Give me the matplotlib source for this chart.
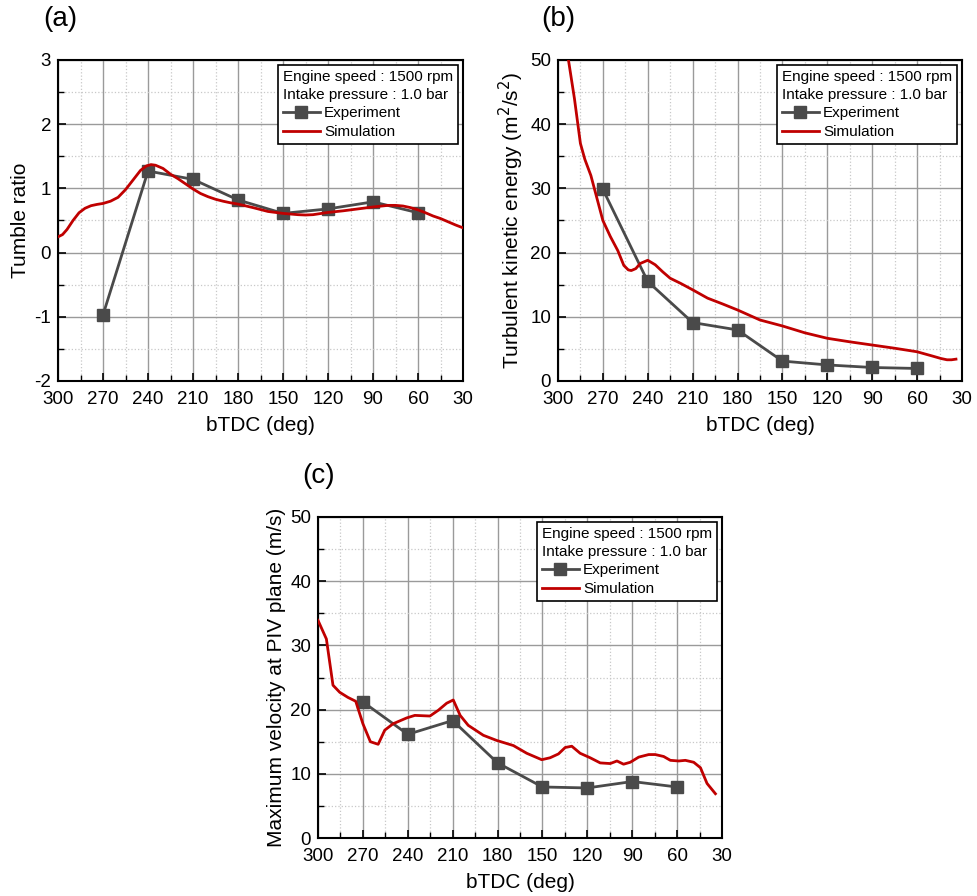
import numpy as np
import matplotlib
matplotlib.use("Agg")
import matplotlib.pyplot as plt
from matplotlib.ticker import MultipleLocator

plt.rcParams['font.family'] = ['Liberation Sans', 'DejaVu Sans']
plt.rcParams['axes.unicode_minus'] = False

# experiment points (same crank angles for all panels)
exp_x = [270, 240, 210, 180, 150, 120, 90, 60]
tumble_exp = [-0.97, 1.27, 1.14, 0.82, 0.61, 0.68, 0.79, 0.62]
tke_exp = [29.85, 15.5, 9.1, 7.95, 3.1, 2.5, 2.1, 1.95]
vel_exp = [21.2, 16.15, 18.3, 11.7, 7.95, 7.8, 8.8, 7.95]

# simulation curves
tumble_sim_x = [300, 297, 294, 290, 286, 282, 278, 274, 270, 265, 260, 255, 250, 245,
                241, 238, 235, 230, 225, 220, 215, 210, 205, 200, 195, 190, 185, 180,
                170, 160, 150, 140, 135, 130, 120, 110, 100, 90, 80, 75, 70, 65, 60,
                55, 50, 45, 40, 35, 30]
tumble_sim = [0.245, 0.28, 0.36, 0.5, 0.62, 0.69, 0.73, 0.75, 0.765, 0.8, 0.86, 0.98, 1.13, 1.28,
              1.35, 1.37, 1.36, 1.31, 1.22, 1.15, 1.07, 0.99, 0.92, 0.87, 0.83, 0.8, 0.775, 0.755,
              0.7, 0.64, 0.61, 0.59, 0.585, 0.59, 0.625, 0.65, 0.68, 0.71, 0.735, 0.735, 0.725, 0.7, 0.665,
              0.62, 0.57, 0.53, 0.48, 0.43, 0.385]

tke_sim_x = [297, 293, 289, 285, 282, 278, 274, 270, 265, 260, 256, 253, 251, 248, 245,
             240, 235, 230, 225, 218, 210, 200, 190, 180, 165, 150, 135, 120, 105, 90,
             75, 60, 50, 44, 40, 37, 34]
tke_sim = [56, 50, 44, 37, 34.5, 32.0, 28.5, 25.0, 22.5, 20.3, 18.0, 17.3, 17.2, 17.5, 18.3,
           18.8, 18.1, 17.0, 16.0, 15.2, 14.2, 12.9, 12.0, 11.06, 9.5, 8.57, 7.5, 6.65, 6.1, 5.6,
           5.1, 4.55, 3.9, 3.5, 3.3, 3.3, 3.4]

vel_sim_x = [300, 294.4, 290, 285.5, 280, 274.8, 270, 265, 259.8, 255.4, 249.8, 240.8, 235.3,
             225.2, 219.6, 214, 209.6, 205, 199.6, 189.5, 180.6, 169.4, 160.5, 150.5, 144.9,
             139.3, 134.8, 130.4, 124.8, 118.1, 111.4, 104.7, 100.2, 95.8, 91.3, 85.7, 79,
             74.6, 69, 64.5, 58.9, 54.5, 48.9, 44.4, 40, 34.4]
vel_sim = [33.9, 31.0, 23.8, 22.7, 21.9, 21.3, 17.8, 15.0, 14.6, 16.8, 17.8, 18.7, 19.1,
           19.0, 19.9, 21.0, 21.5, 19.1, 17.55, 16.0, 15.2, 14.4, 13.2, 12.2, 12.5,
           13.1, 14.1, 14.3, 13.2, 12.5, 11.7, 11.6, 12.0, 11.5, 11.8, 12.6, 13.0,
           13.0, 12.7, 12.1, 12.0, 12.1, 11.8, 10.95, 8.5, 6.9]

gray = '#4a4a4a'
red = '#c00000'


def style_axes(ax, ylim, ymajor, yminor):
    ax.set_xlim(300, 30)
    ax.set_ylim(*ylim)
    ax.xaxis.set_major_locator(MultipleLocator(30))
    ax.xaxis.set_minor_locator(MultipleLocator(15))
    ax.yaxis.set_major_locator(MultipleLocator(ymajor))
    ax.yaxis.set_minor_locator(MultipleLocator(yminor))
    ax.grid(which='major', color='#9a9a9a', linewidth=1.0)
    ax.grid(which='minor', color='#c8c8c8', linestyle=':', linewidth=0.9)
    ax.set_axisbelow(True)
    ax.tick_params(which='both', direction='in', labelsize=13.5, top=False, right=False)
    ax.tick_params(which='major', length=6, width=1.2)
    ax.tick_params(axis='x', which='major', pad=7)
    ax.tick_params(axis='y', which='major', pad=5)
    ax.tick_params(which='minor', length=4, width=1.0)
    for s in ax.spines.values():
        s.set_linewidth(1.5)
    ax.set_xlabel('bTDC (deg)', fontsize=15, labelpad=6)


def draw(ax, sim_x, sim_y, exp_y):
    ax.plot(exp_x, exp_y, '-s', color=gray, linewidth=2, markersize=8, label='Experiment', zorder=3)
    ax.plot(sim_x, sim_y, '-', color=red, linewidth=2, label='Simulation', zorder=4)
    leg = ax.legend(loc='upper right', fontsize=11, frameon=True, fancybox=False,
                    edgecolor='black', framealpha=1, borderaxespad=0.3,
                    title='Engine speed : 1500 rpm\nIntake pressure : 1.0 bar',
                    title_fontsize=11, alignment='left', handlelength=2.4,
                    handletextpad=0.3, labelspacing=0.3, borderpad=0.35)
    leg.get_title().set_linespacing(1.35)
    leg.get_frame().set_linewidth(1.2)


fig = plt.figure(figsize=(9.77, 8.96), dpi=100)

ax_a = fig.add_axes([0.0594, 0.5748, 0.4145, 0.3583])
draw(ax_a, tumble_sim_x, tumble_sim, tumble_exp)
style_axes(ax_a, (-2, 3), 1, 0.5)
ax_a.set_ylabel('Tumble ratio', fontsize=15, labelpad=3)

ax_b = fig.add_axes([0.5711, 0.5748, 0.4135, 0.3583])
draw(ax_b, tke_sim_x, tke_sim, tke_exp)
style_axes(ax_b, (0, 50), 10, 5)
ax_b.set_ylabel('Turbulent kinetic energy (m$^2$/s$^2$)', fontsize=15, labelpad=3)

ax_c = fig.add_axes([0.3255, 0.0647, 0.4135, 0.3583])
draw(ax_c, vel_sim_x, vel_sim, vel_exp)
style_axes(ax_c, (0, 50), 10, 5)
ax_c.set_ylabel('Maximum velocity at PIV plane (m/s)', fontsize=15, labelpad=3)

fig.text(0.044, 0.993, '(a)', fontsize=20, va='top')
fig.text(0.554, 0.993, '(b)', fontsize=20, va='top')
fig.text(0.309, 0.483, '(c)', fontsize=20, va='top')

fig.savefig('out.png', dpi=100)
